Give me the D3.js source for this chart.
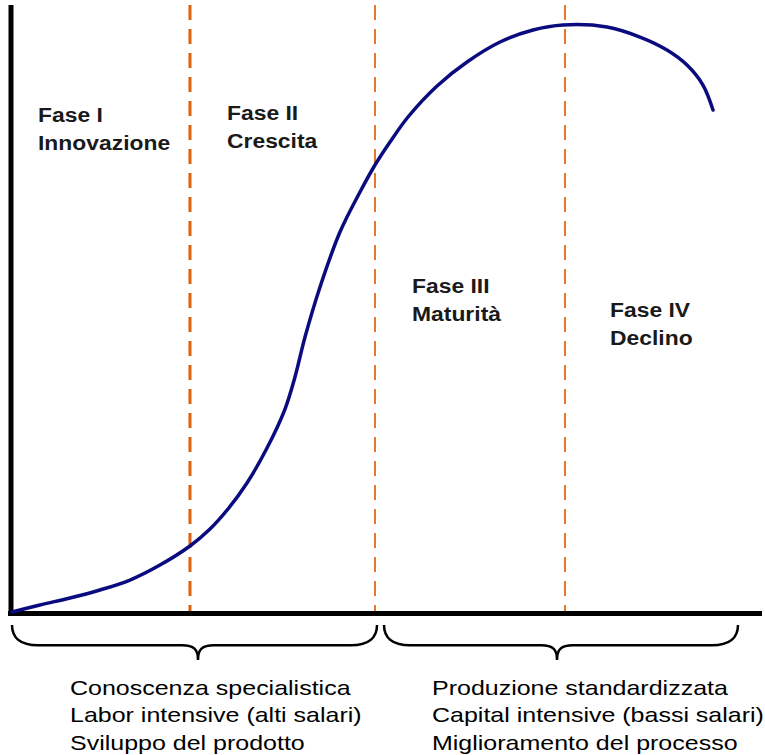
<!DOCTYPE html>
<html>
<head>
<meta charset="utf-8">
<script src="https://cdn.jsdelivr.net/npm/d3@7"></script>
<style>
  html, body { margin: 0; padding: 0; background: #ffffff; }
  svg { display: block; }
</style>
</head>
<body>
<svg id="chart" width="765" height="755"></svg>
<script>
// ---- Data ----
const curveTime  = [0, 3.73, 7.73, 11.73, 15.73, 19.73, 23.73, 26.4, 28.8, 31.33, 34.0, 36.4, 37.73, 39.07, 41.07, 43.73, 46.4, 48.4, 50.4, 52.8, 56.67, 60.67, 65.07, 69.47, 73.47, 79.33, 83.73, 87.33, 90.0, 92.13, 93.47];
const curveValue = [0, 1.17, 2.33, 3.67, 5.33, 7.83, 11.0, 13.83, 17.17, 21.5, 27.33, 33.83, 39.17, 45.83, 54.17, 63.33, 70.0, 74.5, 78.33, 82.5, 87.67, 91.67, 95.0, 97.0, 97.83, 97.5, 95.83, 93.67, 91.17, 87.83, 83.67];
const phaseBoundaries = [23.73, 48.4, 73.73];
const phaseNames  = ["Fase I", "Fase II", "Fase III", "Fase IV"];
const phaseSubs   = ["Innovazione", "Crescita", "Maturità", "Declino"];
const braceRanges = [[0, 48.67], [49.6, 96.8]];
const braceTips   = [24.8, 72.67];
const braceTexts  = [
  ["Conoscenza specialistica", "Labor intensive (alti salari)", "Sviluppo del prodotto"],
  ["Produzione standardizzata", "Capital intensive (bassi salari)", "Miglioramento del processo"]
];

// ---- Layout ----
const svg = d3.select("#chart");
const x = d3.scaleLinear().domain([0, 100]).range([12, 762]);
const y = d3.scaleLinear().domain([0, 100]).range([612, 12]);

// dashed phase lines
const dashColors = ["#DE6210", "#E8772C", "#E8772C"];
const dashWidths = [3, 2, 2];
phaseBoundaries.forEach((b, i) => {
  svg.append("line")
    .attr("x1", x(b)).attr("x2", x(b))
    .attr("y1", 5).attr("y2", 612)
    .attr("stroke", dashColors[i])
    .attr("stroke-width", dashWidths[i])
    .attr("stroke-dasharray", "15,9");
});

// axes
svg.append("line")
  .attr("x1", x(0) - 1).attr("x2", x(0) - 1)
  .attr("y1", 5).attr("y2", 616)
  .attr("stroke", "#000").attr("stroke-width", 5);
svg.append("line")
  .attr("x1", 8).attr("x2", x(100))
  .attr("y1", y(0) + 1.5).attr("y2", y(0) + 1.5)
  .attr("stroke", "#000").attr("stroke-width", 5);

// curve
const pts = curveTime.map((t, i) => [t, curveValue[i]]);
const line = d3.line()
  .x(d => x(d[0])).y(d => y(d[1]))
  .curve(d3.curveCatmullRom.alpha(0.5));
svg.append("path")
  .datum(pts)
  .attr("d", line)
  .attr("fill", "none")
  .attr("stroke", "#0B0B80")
  .attr("stroke-width", 3.5)
  .attr("stroke-linecap", "round");

// phase labels
const labelPos = [[38, 122], [227, 120], [412, 293], [610, 317]];
phaseNames.forEach((n, i) => {
  const g = svg.append("g")
    .attr("transform", `translate(${labelPos[i][0]},${labelPos[i][1]}) scale(1.09,1)`);
  g.append("text").attr("x", 0).attr("y", 0).text(n);
  g.append("text").attr("x", 0).attr("y", 28).text(phaseSubs[i]);
  g.selectAll("text")
    .attr("font-family", "Liberation Sans, Arial, sans-serif")
    .attr("font-weight", "bold")
    .attr("font-size", 21)
    .attr("fill", "#1a1a1a");
});

// braces
function bracePath(x0, x1, m, yTop, depth) {
  const yMid = yTop + depth * 0.58;
  const yTip = yTop + depth;
  return `M${x0},${yTop}
          C${x0},${yMid - 8} ${x0 + 8},${yMid} ${x0 + 26},${yMid}
          L${m - 16},${yMid}
          C${m - 4},${yMid} ${m},${yMid + 4} ${m},${yTip}
          C${m},${yMid + 4} ${m + 4},${yMid} ${m + 16},${yMid}
          L${x1 - 26},${yMid}
          C${x1 - 8},${yMid} ${x1},${yMid - 8} ${x1},${yTop}`;
}
braceRanges.forEach((r, i) => {
  svg.append("path")
    .attr("d", bracePath(x(r[0]), x(r[1]), x(braceTips[i]), 625, 35))
    .attr("fill", "none")
    .attr("stroke", "#000")
    .attr("stroke-width", 2.5);
});

// bottom texts
const textX = [70, 432];
braceTexts.forEach((lines, i) => {
  const g = svg.append("g")
    .attr("transform", `translate(${textX[i]},695) scale(1.19,1)`);
  lines.forEach((t, j) => {
    g.append("text")
      .attr("x", 0).attr("y", j * 27.5)
      .attr("font-family", "Liberation Sans, Arial, sans-serif")
      .attr("font-size", 21)
      .attr("fill", "#000")
      .text(t);
  });
});
</script>
</body>
</html>
